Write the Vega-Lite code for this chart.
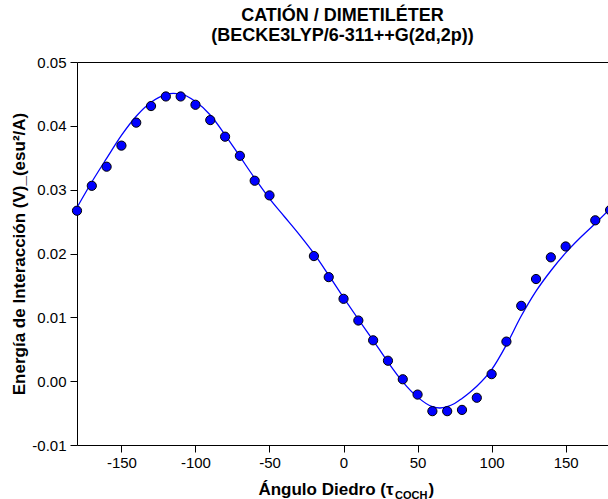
{
  "$schema": "https://vega.github.io/schema/vega-lite/v6.json",
  "width": 531,
  "height": 383,
  "autosize": {"type": "none"},
  "padding": {"left": 77, "top": 62, "right": 0, "bottom": 54},
  "background": "white",
  "config": {"view": {"stroke": null}, "font": "Liberation Sans"},
  "title": {
    "text": ["CATIÓN / DIMETILÉTER", "(BECKE3LYP/6-311++G(2d,2p))"],
    "font": "Liberation Sans",
    "fontSize": 18,
    "fontWeight": "bold",
    "color": "black",
    "anchor": "middle",
    "offset": 10,
    "lineHeight": 20
  },
  "datasets": {
    "curve": [
      {"angle": -180, "energy": 0.0272}, {"angle": -170, "energy": 0.0312}, {"angle": -160, "energy": 0.0349},
      {"angle": -150, "energy": 0.0385}, {"angle": -140, "energy": 0.0415}, {"angle": -130, "energy": 0.0437},
      {"angle": -120, "energy": 0.0449}, {"angle": -115, "energy": 0.0451}, {"angle": -110, "energy": 0.0450},
      {"angle": -100, "energy": 0.0438}, {"angle": -90, "energy": 0.0417}, {"angle": -80, "energy": 0.0386},
      {"angle": -70, "energy": 0.0352}, {"angle": -60, "energy": 0.0318}, {"angle": -50, "energy": 0.0286},
      {"angle": -40, "energy": 0.0258}, {"angle": -30, "energy": 0.0230}, {"angle": -20, "energy": 0.0200},
      {"angle": -10, "energy": 0.0166}, {"angle": 0, "energy": 0.0131}, {"angle": 10, "energy": 0.0097},
      {"angle": 20, "energy": 0.0064}, {"angle": 30, "energy": 0.0030}, {"angle": 40, "energy": -0.0001},
      {"angle": 50, "energy": -0.0025}, {"angle": 60, "energy": -0.0040}, {"angle": 65, "energy": -0.0042},
      {"angle": 70, "energy": -0.0040}, {"angle": 75, "energy": -0.0035}, {"angle": 80, "energy": -0.0027},
      {"angle": 85, "energy": -0.0018}, {"angle": 90, "energy": -0.0008}, {"angle": 100, "energy": 0.0018},
      {"angle": 110, "energy": 0.0057}, {"angle": 120, "energy": 0.0102}, {"angle": 130, "energy": 0.0141},
      {"angle": 140, "energy": 0.0173}, {"angle": 150, "energy": 0.0201}, {"angle": 160, "energy": 0.0225},
      {"angle": 170, "energy": 0.0247}, {"angle": 180, "energy": 0.0270}
    ],
    "points": [
      {"angle": -180, "energy": 0.0267}, {"angle": -170, "energy": 0.0306}, {"angle": -160, "energy": 0.0336},
      {"angle": -150, "energy": 0.0369}, {"angle": -140, "energy": 0.0405}, {"angle": -130, "energy": 0.0431},
      {"angle": -120, "energy": 0.0446}, {"angle": -110, "energy": 0.0446}, {"angle": -100, "energy": 0.0433},
      {"angle": -90, "energy": 0.0409}, {"angle": -80, "energy": 0.0383}, {"angle": -70, "energy": 0.0353},
      {"angle": -60, "energy": 0.0314}, {"angle": -50, "energy": 0.0291}, {"angle": -20, "energy": 0.0196},
      {"angle": -10, "energy": 0.0163}, {"angle": 0, "energy": 0.0129}, {"angle": 10, "energy": 0.0095},
      {"angle": 20, "energy": 0.0064}, {"angle": 30, "energy": 0.0032}, {"angle": 40, "energy": 0.0003},
      {"angle": 50, "energy": -0.0021}, {"angle": 60, "energy": -0.0047}, {"angle": 70, "energy": -0.0047},
      {"angle": 80, "energy": -0.0045}, {"angle": 90, "energy": -0.0026}, {"angle": 100, "energy": 0.0011},
      {"angle": 110, "energy": 0.0062}, {"angle": 120, "energy": 0.0118}, {"angle": 130, "energy": 0.0160},
      {"angle": 140, "energy": 0.0194}, {"angle": 150, "energy": 0.0211}, {"angle": 170, "energy": 0.0252},
      {"angle": 180, "energy": 0.0268}
    ]
  },
  "layer": [
    {
      "data": {"name": "curve"},
      "mark": {"type": "line", "color": "#0000ff", "strokeWidth": 1.3, "interpolate": "monotone", "clip": false},
      "encoding": {
        "x": {
          "field": "angle", "type": "quantitative",
          "scale": {"domain": [-180, 178.6], "nice": false, "zero": false},
          "axis": {
            "orient": "bottom",
            "values": [-150, -100, -50, 0, 50, 100, 150],
            "labelExpr": "replace(format(datum.value, 'd'), '\u2212', '-')",
            "grid": false,
            "domainColor": "black", "domainWidth": 1,
            "tickColor": "black", "tickSize": 7, "tickWidth": 1,
            "labelFont": "Liberation Sans", "labelFontSize": 15, "labelColor": "black", "labelPadding": 3,
            "title": "Ángulo Diedro (τ",
            "titleFont": "Liberation Sans", "titleFontSize": 17, "titleFontWeight": "bold", "titleColor": "black",
            "titleX": 316, "titleY": 49, "titleAlign": "right", "titleBaseline": "alphabetic", "titleAngle": 0
          }
        },
        "y": {
          "field": "energy", "type": "quantitative",
          "scale": {"domain": [-0.01, 0.05], "nice": false, "zero": false},
          "axis": {
            "orient": "left",
            "values": [-0.01, 0, 0.01, 0.02, 0.03, 0.04, 0.05],
            "labelExpr": "replace(format(datum.value, '.2f'), '\u2212', '-')",
            "grid": false,
            "domainColor": "black", "domainWidth": 1,
            "tickColor": "black", "tickSize": 7, "tickWidth": 1,
            "labelFont": "Liberation Sans", "labelFontSize": 15, "labelColor": "black", "labelPadding": 4,
            "title": "Energía de Interacción (V)_(esu²/A)",
            "titleFont": "Liberation Sans", "titleFontSize": 17, "titleFontWeight": "bold", "titleColor": "black",
            "titlePadding": 3
          }
        }
      }
    },
    {
      "data": {"name": "points"},
      "mark": {"type": "circle", "fill": "#0000ff", "stroke": "black", "strokeWidth": 1, "size": 85, "opacity": 1, "clip": false},
      "encoding": {
        "x": {
          "field": "angle", "type": "quantitative",
          "axis": {
            "orient": "top",
            "labels": false, "ticks": false, "grid": false,
            "domainColor": "black", "domainWidth": 1,
            "title": "COCH",
            "titleFont": "Liberation Sans", "titleFontSize": 11, "titleFontWeight": "bold", "titleColor": "black",
            "titleX": 317.5, "titleY": 436, "titleAlign": "left", "titleBaseline": "alphabetic", "titleAngle": 0
          }
        },
        "y": {
          "field": "energy", "type": "quantitative",
          "axis": {
            "orient": "right",
            "labels": false, "ticks": false, "grid": false, "domain": false,
            "title": ")",
            "titleFont": "Liberation Sans", "titleFontSize": 17, "titleFontWeight": "bold", "titleColor": "black",
            "titleX": -180, "titleY": 432, "titleAlign": "left", "titleBaseline": "alphabetic", "titleAngle": 0
          }
        }
      }
    }
  ],
  "resolve": {"axis": {"x": "independent", "y": "independent"}}
}
